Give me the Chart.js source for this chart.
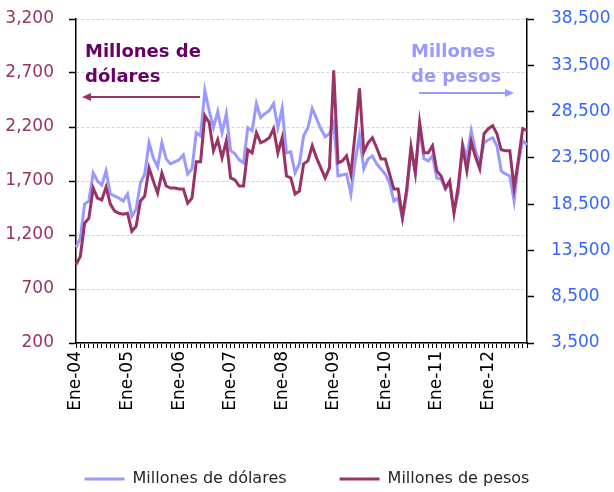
<!DOCTYPE html>
<html>
<head>
<meta charset="utf-8">
<script src="https://cdn.jsdelivr.net/npm/chart.js@4.4.0/dist/chart.umd.min.js"></script>
<style>
  body { margin: 0; background: #fff; }
  #wrap { width: 614px; height: 492px; }
</style>
</head>
<body>
<div id="wrap"><canvas id="grafico" width="614" height="492"></canvas></div>
<script>
// Meses en español para las categorías (Ene-04 ... Oct-12)
const meses = ['Ene', 'Feb', 'Mar', 'Abr', 'May', 'Jun', 'Jul', 'Ago', 'Sep', 'Oct', 'Nov', 'Dic'];
const anioInicial = 4;

// Millones de dólares (eje izquierdo)
const dolares = [
  1085, 1169, 1486, 1514, 1775, 1700, 1663, 1793, 1579, 1560, 1542, 1514,
  1579, 1374, 1439, 1681, 1765, 2054, 1914, 1830, 2054, 1905, 1858, 1877,
  1896, 1942, 1765, 1812, 2147, 2119, 2539, 2352, 2194, 2343, 2147, 2324,
  1980, 1952, 1896, 1868, 2194, 2166, 2417, 2287, 2324, 2352, 2417, 2194,
  2371, 1961, 1970, 1775, 1858, 2119, 2194, 2371, 2278, 2184, 2110, 2138,
  2240, 1747, 1756, 1765, 1579, 1886, 2119, 1812, 1905, 1933, 1858, 1812,
  1765, 1681, 1514, 1542, 1346, 1579, 1998, 1775, 2194, 1905, 1886, 1933,
  1728, 1719, 1625, 1681, 1420, 1588, 2045, 1914, 2166, 1980, 1858, 2054,
  2082, 2101, 2026, 1793, 1765, 1747, 1514, 1868, 2073, 2035
];

// Millones de pesos (eje derecho)
const pesos = [
  11980, 12850, 16440, 16980, 20240, 19150, 18940, 20350, 18500, 17740, 17520, 17410,
  17520, 15570, 16110, 18830, 19370, 22410, 21000, 19700, 21870, 20460, 20240, 20240,
  20130, 20130, 18610, 19150, 23070, 23070, 28070, 27310, 24260, 25460, 23500, 25350,
  21330, 21110, 20460, 20460, 24370, 24040, 26220, 25130, 25350, 25670, 26650, 24040,
  25670, 21540, 21330, 19590, 19910, 22850, 23170, 24810, 23500, 22410, 21330, 22410,
  32960, 22960, 23170, 23720, 21760, 26220, 31000, 24150, 25130, 25670, 24590, 23390,
  23390, 21760, 20130, 20130, 17090, 20130, 24700, 21870, 27310, 24040, 24040, 24810,
  22090, 21540, 20240, 21000, 17520, 20460, 24700, 22090, 25240, 23610, 22310, 26110,
  26650, 26980, 26110, 24370, 24260, 24260, 20240, 23280, 26650, 26440
];

// Límites de los ejes
const ejeIzq = { min: 200, max: 3200, paso: 500 };
const ejeDer = { min: 3500, max: 38500, paso: 5000 };

const categorias = dolares.map((_, i) =>
  meses[i % 12] + '-' + String(anioInicial + Math.floor(i / 12)).padStart(2, '0'));

const fuente = 'DejaVu Sans';
const formato = v => Number(v).toLocaleString('en-US');

// Rótulos y flechas dentro del área del gráfico
const rotulos = {
  id: 'rotulos',
  afterDraw(chart) {
    const ctx = chart.ctx;
    const { left, top } = chart.chartArea;
    ctx.save();
    ctx.font = 'bold 18px ' + fuente;
    ctx.textBaseline = 'alphabetic';
    ctx.textAlign = 'left';

    ctx.fillStyle = '#660066';
    ctx.fillText('Millones de', left + 9, top + 38);
    ctx.fillText('dólares', left + 9, top + 63);

    ctx.fillStyle = '#9999ff';
    ctx.fillText('Millones', left + 335, top + 38);
    ctx.fillText('de pesos', left + 335, top + 63);

    const flecha = (x1, x2, y, color) => {
      const dir = Math.sign(x2 - x1);
      ctx.strokeStyle = color;
      ctx.fillStyle = color;
      ctx.lineWidth = 2;
      ctx.beginPath();
      ctx.moveTo(x1, y);
      ctx.lineTo(x2 - dir * 6, y);
      ctx.stroke();
      ctx.beginPath();
      ctx.moveTo(x2, y);
      ctx.lineTo(x2 - dir * 9, y - 4);
      ctx.lineTo(x2 - dir * 9, y + 4);
      ctx.closePath();
      ctx.fill();
    };
    flecha(left + 124, left + 6, top + 78, '#993366');
    flecha(left + 343, left + 438, top + 74, '#9999ff');
    ctx.restore();
  }
};

// Ejes verticales: ancho fijo y sin relleno extra arriba/abajo
const ajustarEjeY = ancho => s => {
  s.width = ancho;
  s.paddingTop = 10;
  s.paddingBottom = 10;
};

const ctx = document.getElementById('grafico').getContext('2d');
new Chart(ctx, {
  type: 'line',
  data: {
    labels: categorias,
    datasets: [
      {
        label: 'Millones de dólares',
        data: dolares,
        yAxisID: 'yIzq',
        borderColor: '#9999ff',
        backgroundColor: '#9999ff',
        borderWidth: 3,
        pointRadius: 0,
        tension: 0,
        order: 1
      },
      {
        label: 'Millones de pesos',
        data: pesos,
        yAxisID: 'yDer',
        borderColor: '#993366',
        backgroundColor: '#993366',
        borderWidth: 3,
        pointRadius: 0,
        tension: 0,
        order: 0
      }
    ]
  },
  options: {
    responsive: false,
    devicePixelRatio: 1,
    animation: false,
    layout: { padding: { top: 19, left: 0, right: 0, bottom: -5 } },
    plugins: {
      tooltip: { enabled: false },
      legend: {
        position: 'bottom',
        labels: {
          usePointStyle: true,
          pointStyle: 'line',
          pointStyleWidth: 40,
          padding: 53,
          color: '#262626',
          font: { family: fuente, size: 16 },
          sort: (a, b) => a.datasetIndex - b.datasetIndex
        }
      }
    },
    scales: {
      x: {
        type: 'category',
        offset: false,
        grid: { drawOnChartArea: false, color: '#000', tickLength: 5, tickWidth: 1 },
        border: { display: true, color: '#000', width: 1.5 },
        ticks: {
          autoSkip: false,
          minRotation: 90,
          maxRotation: 90,
          padding: 3,
          color: '#000',
          font: { family: fuente, size: 17 },
          callback: (v, i) => (i % 12 === 0 ? categorias[i] : '')
        },
        afterFit(s) {
          const alto = s.chart.legend ? s.chart.legend.height : 0;
          s.height = s.chart.height - 341 - alto + 3;
        }
      },
      yIzq: {
        position: 'left',
        min: ejeIzq.min,
        max: ejeIzq.max,
        grid: { color: '#d4d4d4', tickColor: '#000', tickLength: 7, tickWidth: 1.5 },
        border: { display: true, color: '#000', width: 1.5, dash: [3, 2] },
        ticks: {
          stepSize: ejeIzq.paso,
          padding: 15,
          color: '#993366',
          font: { family: fuente, size: 17 },
          callback: formato
        },
        afterFit: ajustarEjeY(76)
      },
      yDer: {
        position: 'right',
        min: ejeDer.min,
        max: ejeDer.max,
        grid: { drawOnChartArea: false, color: '#000', tickLength: 7, tickWidth: 1.5 },
        border: { display: true, color: '#000', width: 1.5 },
        ticks: {
          stepSize: ejeDer.paso,
          padding: 17,
          color: '#3366ff',
          font: { family: fuente, size: 17 },
          callback: formato
        },
        afterFit: ajustarEjeY(87)
      }
    }
  },
  plugins: [rotulos]
});
</script>
</body>
</html>
